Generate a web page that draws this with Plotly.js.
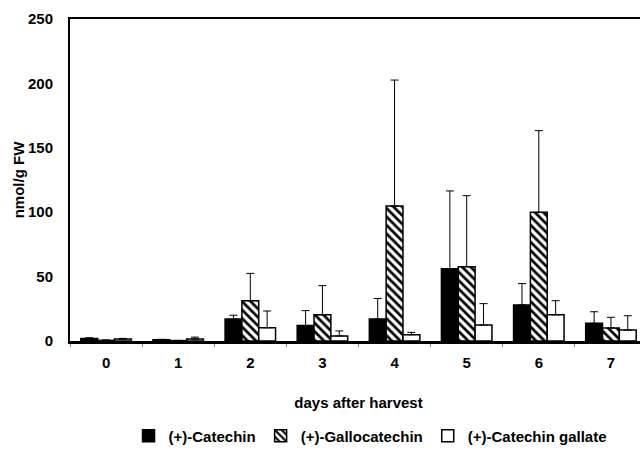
<!DOCTYPE html>
<html><head><meta charset="utf-8">
<script src="https://cdn.plot.ly/plotly-3.0.1.min.js"></script>
<style>html,body{margin:0;padding:0;overflow:hidden;background:#fff}</style>
</head><body>
<div id="chart" style="width:660px;height:451px"></div>
<script>
const days = ["0","1","2","3","4","5","6","7"];
const catechin = [2, 1, 17, 12, 17, 56, 28, 13.7];
const catechinErr = [0.5, 0.3, 3, 11.6, 16, 60.5, 16.6, 9];
const gallocatechin = [0.5, 0.3, 31.3, 20.4, 104.8, 57.7, 99.9, 10.1];
const gallocatechinErr = [0.3, 0.2, 21.2, 22.6, 97.8, 55.1, 63.4, 8.3];
const catechinGallate = [1.5, 1.5, 10.3, 3.9, 4.9, 12.4, 20.4, 8.5];
const catechinGallateErr = [0.5, 1.5, 13, 3.9, 1.8, 16.6, 10.9, 11.1];
const zeros = days.map(() => 0);

const errStyle = arr => ({type:"data", symmetric:false, array:arr, arrayminus:zeros, color:"#000", thickness:1, width:4});
const line = {color:"#000", width:1.5};
const traces = [
  {type:"bar", name:"(+)-Catechin", x:days, y:catechin, error_y:errStyle(catechinErr),
   marker:{color:"#000", line:line}},
  {type:"bar", name:"(+)-Gallocatechin", x:days, y:gallocatechin, error_y:errStyle(gallocatechinErr),
   marker:{color:"#fff", line:line, pattern:{shape:"\\", fgcolor:"#000", bgcolor:"#fff", size:6, solidity:0.45}}},
  {type:"bar", name:"(+)-Catechin gallate", x:days, y:catechinGallate, error_y:errStyle(catechinGallateErr),
   marker:{color:"#fff", line:line}}
];
const font = {family:"Liberation Sans, Arial, sans-serif", size:15, color:"#000", weight:"bold"};
const layout = {
  width:660, height:451,
  margin:{l:70, r:13, t:19, b:110, autoexpand:false},
  paper_bgcolor:"#fff", plot_bgcolor:"#fff",
  font:font,
  barmode:"group", bargap:0.3, bargroupgap:0,
  showlegend:true,
  legend:{orientation:"h", x:0.52, xanchor:"center", y:-0.295, yanchor:"middle",
    font:font, itemwidth:30, tracegroupgap:0, traceorder:"normal"},
  xaxis:{type:"category", range:[-0.5, 7.5], showline:true, linecolor:"#000", linewidth:2.5,
    mirror:true, ticks:"outside", tickson:"boundaries", ticklen:3, tickcolor:"#888", tickwidth:1,
    showgrid:false, zeroline:false, tickfont:font, automargin:false, ticklabelstandoff:6,
    title:{text:"days after harvest", font:font, standoff:28}},
  yaxis:{range:[0,250], dtick:50, showline:true, linecolor:"#000", linewidth:2, mirror:true,
    ticks:"", showgrid:false, zeroline:false, tickfont:font, automargin:false, ticklabelstandoff:12,
    title:{text:"nmol/g FW", font:font, standoff:0}}
};
Plotly.newPlot("chart", traces, layout, {displayModeBar:false, staticPlot:true});
</script>
</body></html>
